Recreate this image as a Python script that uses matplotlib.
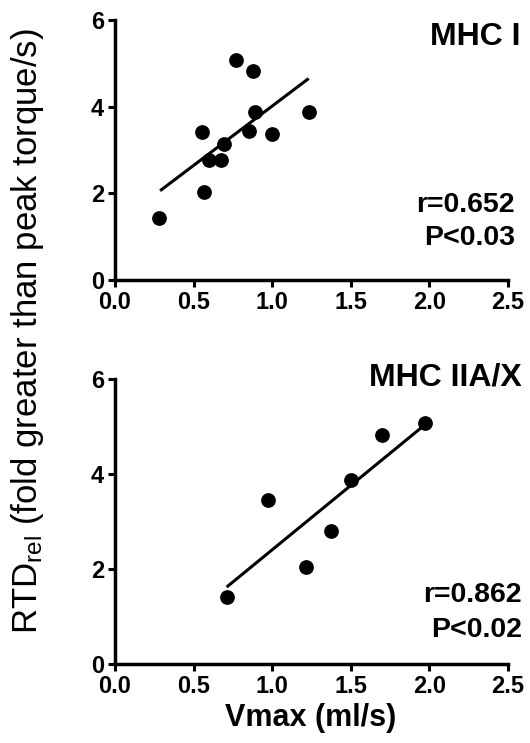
import matplotlib
matplotlib.use("Agg")
import matplotlib.pyplot as plt
import numpy as np

plt.rcParams['font.family'] = ['Liberation Sans', 'DejaVu Sans']
plt.rcParams['mathtext.default'] = 'regular'

# ---- data ----
mhc1_vmax = [0.28, 0.556, 0.569, 0.60, 0.677, 0.694, 0.77, 0.855, 0.88, 0.889, 1.00, 1.237]
mhc1_rtd = [1.42, 3.42, 2.02, 2.78, 2.77, 3.15, 5.08, 3.45, 4.82, 3.88, 3.38, 3.88]
mhc1_fit_x = [0.287, 1.233]
mhc1_fit_y = [2.06, 4.65]

mhc2_vmax = [0.711, 0.972, 1.214, 1.373, 1.50, 1.70, 1.974]
mhc2_rtd = [1.42, 3.46, 2.04, 2.80, 3.88, 4.82, 5.08]
mhc2_fit_x = [0.711, 1.974]
mhc2_fit_y = [1.62, 5.04]

x_ticks = [0.0, 0.5, 1.0, 1.5, 2.0, 2.5]
y_ticks = [0, 2, 4, 6]
titles = ["MHC I", "MHC IIA/X"]
stats = [["r=0.652", "P<0.03"], ["r=0.862", "P<0.02"]]
xlabel = "Vmax (ml/s)"
ylabel = r"RTD$_{rel}$ (fold greater than peak torque/s)"

W, H = 530, 743
fig = plt.figure(figsize=(W / 100, H / 100), dpi=100)

def fx(px):
    return px / W

def fy(py):
    return 1 - py / H

ax1 = fig.add_axes([fx(115), fy(280), (507.7 - 115) / W, 260 / H])
ax2 = fig.add_axes([fx(115), fy(664), (507.7 - 115) / W, 285 / H])

for ax, xs, ys, fxs, fys in [(ax1, mhc1_vmax, mhc1_rtd, mhc1_fit_x, mhc1_fit_y),
                             (ax2, mhc2_vmax, mhc2_rtd, mhc2_fit_x, mhc2_fit_y)]:
    ax.plot(fxs, fys, color='black', lw=2.2, solid_capstyle='butt', clip_on=False)
    ax.plot(xs, ys, 'o', color='black', ms=9.6, clip_on=False, zorder=3)
    ax.set_xlim(0, 2.5)
    ax.set_ylim(0, 6)
    ax.set_xticks(x_ticks)
    ax.set_xticklabels([f"{v:.1f}" for v in x_ticks])
    ax.set_yticks(y_ticks)
    ax.set_yticklabels([str(v) for v in y_ticks])
    for s in ['top', 'right']:
        ax.spines[s].set_visible(False)
    for s in ['left', 'bottom']:
        ax.spines[s].set_linewidth(2.5)
    ax.tick_params(axis='both', direction='out', length=5, width=2.2, labelsize=17, pad=3)
    for lab in ax.get_xticklabels() + ax.get_yticklabels():
        lab.set_fontweight('bold')

# titles and stats
fig.text(fx(520), fy(45), titles[0], ha='right', va='baseline', fontsize=23, fontweight='bold')
fig.text(fx(515), fy(212), stats[0][0], ha='right', va='baseline', fontsize=20.5, fontweight='bold')
fig.text(fx(515), fy(245), stats[0][1], ha='right', va='baseline', fontsize=20.5, fontweight='bold')

fig.text(fx(522), fy(385), titles[1], ha='right', va='baseline', fontsize=23, fontweight='bold')
fig.text(fx(522), fy(602), stats[1][0], ha='right', va='baseline', fontsize=20.5, fontweight='bold')
fig.text(fx(522), fy(637), stats[1][1], ha='right', va='baseline', fontsize=20.5, fontweight='bold')

fig.text(fx(311), fy(726), xlabel, ha='center', va='baseline', fontsize=22, fontweight='bold')
fig.text(fx(28), fy(331), ylabel, ha='center', va='center', rotation=90, fontsize=25)

fig.savefig("out.png", dpi=100, facecolor='white')
